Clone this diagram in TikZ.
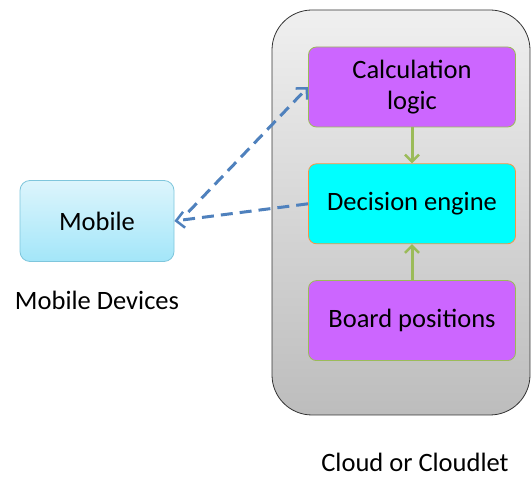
\documentclass[tikz,border=0pt]{standalone}
\usepackage{fontspec}
\setmainfont{Carlito}
\usetikzlibrary{positioning,arrows.meta}
\definecolor{boxpurple}{HTML}{CC66FF}
\definecolor{boxcyan}{HTML}{00FFFF}
\definecolor{linkgreen}{HTML}{9BBB59}
\definecolor{linkblue}{HTML}{4F81BD}
\definecolor{edgeorange}{HTML}{F79646}
\definecolor{mobiletop}{HTML}{DDF5FC}
\definecolor{mobilebottom}{HTML}{A3E6F9}
\definecolor{mobileedge}{HTML}{7FC6DC}
\newcommand{\labelfont}{\fontsize{26.5}{31}\selectfont}
\tikzset{
  engine/.style={draw, rounded corners=8pt, minimum width=207pt,
    minimum height=80pt, align=center, line width=0.8pt,
    font=\labelfont},
  flow/.style={draw=linkgreen, line width=3pt,
    -{Straight Barb[length=7pt,width=14pt,line width=2.5pt]}},
  query/.style={draw=linkblue, line width=3pt, dash pattern=on 12pt off 7pt,
    -{Straight Barb[length=8pt,width=16pt,line width=2.5pt]}}
}
\begin{document}
\begin{tikzpicture}[x=1pt,y=-1pt]
	\useasboundingbox (0,0) rectangle (531,478);
	% the cloud side
	\draw[draw=black!80, line width=0.8pt, rounded corners=40pt,
	  top color=black!6, bottom color=black!26]
	  (272,10) rectangle (530,415);
	\node[engine, fill=boxpurple, draw=linkgreen] (calc) at (412,87)
	  {Calculation\\logic};
	\node[engine, fill=boxcyan, draw=edgeorange, below=36pt of calc] (decision)
	  {Decision engine};
	\node[engine, fill=boxpurple, draw=linkgreen, below=36pt of decision]
	  (board) {Board positions};
	\node[font=\labelfont, anchor=base] (cloudlabel) at (415,472)
	  {Cloud or Cloudlet};
	% the device side
	\node[draw=mobileedge, line width=0.8pt, rounded corners=10pt,
	  minimum width=154pt, minimum height=81pt,
	  top color=mobiletop, bottom color=mobilebottom,
	  font=\labelfont] (mobile) at (97,221) {Mobile};
	\node[font=\labelfont] (devlabel) at (97,300) {Mobile Devices};
	% links
	\draw[flow] (calc) -- (decision);
	\draw[flow] (board) -- (decision);
	\draw[query] ([shift={(14pt,9pt)}]mobile.east) -- (calc.west);
	\draw[query] (decision.west) -- (mobile.east);
\end{tikzpicture}
\end{document}
